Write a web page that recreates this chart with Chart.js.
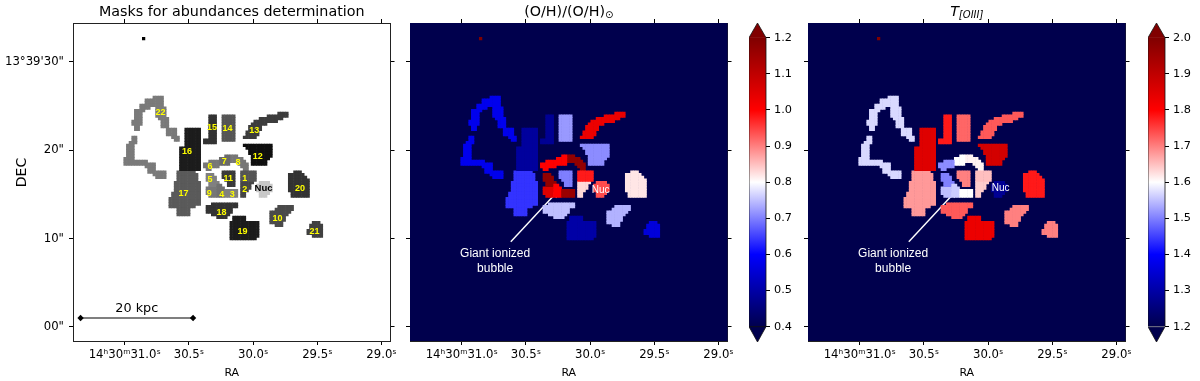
<!DOCTYPE html>
<html>
<head>
<meta charset="utf-8">
<script src="https://cdn.jsdelivr.net/npm/chart.js@4"></script>
<style>
  body { margin: 0; background: #fff; }
  canvas { position: absolute; top: 0; }
</style>
</head>
<body>
<canvas id="maskPanel" width="400" height="381" style="left:0"></canvas>
<canvas id="oxygenPanel" width="400" height="381" style="left:337px"></canvas>
<canvas id="oxygenBar" width="60" height="381" style="left:749px"></canvas>
<canvas id="tempPanel" width="400" height="381" style="left:735px"></canvas>
<canvas id="tempBar" width="52" height="381" style="left:1148px"></canvas>
<script>
// Mask cells: each entry is [row, first column, last column] on the image grid
const region1 = [[34,53,58],[35,53,58],[36,53,58],[37,53,58]];
const region2 = [[38,53,57],[39,53,56],[40,53,56],[41,53,55],[42,53,54],[43,53,54]];
const region3 = [[41,47,51],[42,47,51],[43,47,51]];
const region4 = [[39,44,45],[40,44,46],[41,44,46],[42,44,46],[43,44,46]];
const region5 = [[35,40,42],[36,40,43],[37,40,43],[38,41,44],[39,41,43]];
const region6 = [[30,41,44],[31,39,44],[32,39,44],[33,40,41]];
const region7 = [[28,47,48],[29,45,48],[30,45,48],[31,45,48]];
const region8 = [[28,49,51],[29,49,53],[30,49,54],[31,52,55],[32,53,55],[33,54,55]];
const region9 = [[40,40,43],[41,40,43],[42,40,43],[43,41,43]];
const region10 = [[47,67,72],[48,66,72],[49,64,71],[50,64,70],[51,64,69],[52,64,69],[53,64,68],[54,66,68]];
const region11 = [[34,46,50],[35,46,50],[36,46,50],[37,47,50],[38,48,50],[39,48,50]];
const region12 = [[24,54,64],[25,55,64],[26,56,64],[27,56,64],[28,57,64],[29,57,63],[30,57,62],[31,57,62]];
const region13 = [[12,67,70],[13,63,70],[14,60,68],[15,58,66],[16,57,62],[17,56,60],[18,56,60],[19,55,59],[20,55,59],[21,54,58]];
const region14 = [[13,46,50],[14,46,50],[15,46,50],[16,46,50],[17,46,50],[18,46,50],[19,46,50],[20,46,50],[21,46,50],[22,46,50]];
const region15 = [[13,41,43],[14,41,43],[15,41,43],[16,41,43],[17,41,43],[18,41,43],[19,41,43],[20,41,43],[21,41,43],[22,39,43],[23,39,43]];
const region16 = [[18,32,37],[19,32,37],[20,32,37],[21,32,37],[22,32,37],[23,32,37],[24,32,37],[25,30,37],[26,30,37],[27,30,37],[28,30,37],[29,30,37],[30,30,37],[31,30,37],[32,30,37],[33,30,37]];
const region17 = [[34,29,35],[35,29,36],[36,29,36],[37,29,36],[38,28,37],[39,28,37],[40,28,37],[41,28,37],[42,27,37],[43,27,37],[44,26,37],[45,26,37],[46,26,37],[47,26,35],[48,29,33],[49,29,33],[50,29,33]];
const region18 = [[46,42,51],[47,40,51],[48,40,49],[49,40,49],[50,42,48],[51,44,47]];
const region19 = [[51,50,54],[52,50,54],[53,49,59],[54,49,59],[55,49,59],[56,49,59],[57,49,59],[58,49,59],[59,49,58]];
const region20 = [[34,73,75],[35,71,76],[36,71,77],[37,71,78],[38,71,78],[39,71,78],[40,71,78],[41,71,78],[42,72,78],[43,72,78]];
const region21 = [[53,80,82],[54,79,83],[55,79,83],[56,78,83],[57,78,83],[58,80,83]];
const region22 = [[6,20,23],[7,17,23],[8,17,23],[9,15,23],[10,15,18],[10,21,24],[11,13,16],[11,21,24],[12,13,15],[12,21,24],[13,13,15],[13,21,24],[14,13,15],[14,22,25],[15,12,15],[15,23,25],[16,12,15],[16,23,25],[17,13,14],[17,23,25],[18,13,14],[18,25,28],[19,25,28],[20,25,28],[21,12,13],[21,27,29],[22,12,13],[22,28,29],[23,11,13],[24,10,12],[25,10,12],[26,10,12],[27,10,12],[28,10,12],[29,9,12],[30,9,17],[31,9,20],[32,17,20],[33,18,20],[34,18,24],[35,20,24],[36,21,24]];
const regionNuc = [[38,60,63],[39,59,64],[40,59,64],[41,59,64],[42,60,63],[43,60,62]];
const regionDot = [[-16,16,16]];

const regionSpans = [region1, region2, region3, region4, region5, region6, region7, region8, region9, region10, region11,
  region12, region13, region14, region15, region16, region17, region18, region19, region20, region21, region22, regionNuc, regionDot];

// Per-region values, same order as regionSpans
const maskGray = [85, 70, 128, 112, 128, 119, 106, 119, 119, 74, 58, 15, 60, 85, 51, 28, 90, 51, 28, 51, 64, 122, 200, 0];
const oxygenValues = [0.98, 0.83, 1.16, 1.0, 1.17, 1.0, 1.0, 1.17, 1.05, 0.74, 0.70, 0.71, 1.03, 0.72, 0.48, 0.49, 0.64, 0.75, 0.5, 0.82, 0.56, 0.58, 0.94, 1.25];
const tempValues = [1.65, 1.64, 1.6, 1.56, 1.5, 1.51, 1.6, 1.61, 1.55, 1.7, 1.7, 1.87, 1.73, 1.72, 1.78, 1.85, 1.68, 1.73, 1.83, 1.78, 1.7, 1.57, 1.28, 2.1];

// Region labels of the mask panel, in grid units
const labelTexts = ["22", "15", "14", "13", "16", "12", "7", "8", "6", "5", "11", "1", "2", "9", "4", "3", "20", "17", "18", "10", "19", "21"];
const labelCols = [22.9, 42.3, 48.1, 58.2, 32.8, 59.5, 46.9, 52.1, 41.5, 41.5, 48.4, 54.6, 54.6, 41.2, 45.9, 49.9, 75.4, 31.5, 45.8, 66.9, 53.8, 80.9];
const labelRows = [12.25, 17.75, 18.1, 19.1, 26.75, 28.5, 30.6, 31.1, 32.5, 37.4, 37, 37, 41.1, 42.4, 42.75, 42.75, 40.6, 42.5, 49.6, 51.9, 56.75, 56.9];

// Axis ticks
const raTicks = [31.0, 30.5, 30.0, 29.5, 29.0];
const raTickLabels = ["14ʰ30ᵐ31.0ˢ", "30.5ˢ", "30.0ˢ", "29.5ˢ", "29.0ˢ"];
const decTicks = [0, 10, 20, 30];
const decTickLabels = ['00"', '10"', '20"', '13°39\'30"'];
const oxygenTicks = [0.4, 0.5, 0.6, 0.7, 0.8, 0.9, 1.0, 1.1, 1.2];
const tempTicks = [1.2, 1.3, 1.4, 1.5, 1.6, 1.7, 1.8, 1.9, 2.0];

// Annotations in RA (s) / DEC (") offsets
const scaleBarRa = [31.344, 30.468];
const scaleBarDec = [1.02, 1.02];
const arrowRa = [30.618, 30.272];
const arrowDec = [9.65, 15.05];

// Map window and grid
const raRange = [28.93, 31.403];
const decRange = [-1.584, 34.39];
const gridRa0 = 31.194, gridRaStep = 0.02067;
const gridDec0 = 27.94, gridDecStep = 0.3017;

const FONT = '"DejaVu Sans"';
const ARIAL = '"Liberation Sans"';

// Same stops as matplotlib's seismic map
const seismicStops = [[0, [0, 0, 77]], [0.25, [0, 0, 255]], [0.5, [255, 255, 255]], [0.75, [255, 0, 0]], [1, [128, 0, 0]]];

function seismicColor(t) {
  t = Math.min(1, Math.max(0, t));
  for (let i = 1; i < seismicStops.length; i++) {
    const [t1, c1] = seismicStops[i];
    if (t <= t1) {
      const [t0, c0] = seismicStops[i - 1];
      const f = (t - t0) / (t1 - t0);
      return `rgb(${c0.map((c, k) => Math.round(c + (c1[k] - c) * f)).join(",")})`;
    }
  }
  return "rgb(128,0,0)";
}

const colToRa = col => gridRa0 - col * gridRaStep;
const rowToDec = row => gridDec0 - row * gridDecStep;

// Turn the span lists into scatter points
function spansToPoints(spans) {
  const points = [];
  spans.forEach(([row, first, last]) => {
    for (let col = first; col <= last; col++) {
      points.push({ x: colToRa(col + 0.5), y: rowToDec(row + 0.5) });
    }
  });
  return points;
}

function fixedTicks(values) {
  return scale => { scale.ticks = values.map(value => ({ value })); };
}

function mapAxis(position, range, values, labels, size) {
  const horizontal = position === "bottom" || position === "top";
  return {
    type: "linear",
    position,
    reverse: horizontal,
    min: range[0],
    max: range[1],
    afterBuildTicks: fixedTicks(values),
    afterFit: scale => {
      if (horizontal) scale.height = size; else scale.width = size;
    },
    grid: { drawOnChartArea: false, tickLength: 4, tickColor: "#000", tickWidth: 1 },
    border: { display: true, color: "#222", width: 1 },
    ticks: {
      display: !!labels,
      autoSkip: false,
      maxRotation: 0,
      padding: horizontal ? 3 : 5,
      color: "#000",
      font: { family: FONT, size: 11.7 },
      callback: value => {
        const i = values.indexOf(value);
        return labels && i >= 0 ? labels[i] : "";
      }
    }
  };
}

// Title, background and text annotations for one map panel
function panelPlugin(panel) {
  return {
    id: "panelDecor",
    beforeDatasetsDraw(chart) {
      const { ctx, chartArea: a } = chart;
      if (panel.background) {
        ctx.fillStyle = panel.background;
        ctx.fillRect(a.left, a.top, a.width, a.height);
      }
    },
    afterDatasetsDraw(chart) {
      const { ctx, chartArea: a, scales } = chart;
      ctx.save();
      ctx.textBaseline = "alphabetic";
      ctx.textAlign = "left";
      ctx.fillStyle = "#000";
      const runs = panel.titleRuns;
      const width = runs.reduce((sum, r) => {
        ctx.font = r.font;
        return sum + ctx.measureText(r.text).width;
      }, 0);
      let x = (a.left + a.right) / 2 - width / 2;
      runs.forEach(r => {
        ctx.font = r.font;
        ctx.fillText(r.text, x, 16 + (r.dy || 0));
        x += ctx.measureText(r.text).width;
      });
      ctx.textAlign = "center";
      ctx.textBaseline = "middle";
      if (panel.decTitle) {
        // matplotlib centred this on the whole figure, not on the axis
        ctx.save();
        ctx.translate(22.5, 172.5);
        ctx.rotate(-Math.PI / 2);
        ctx.font = `14px ${FONT}`;
        ctx.fillText("DEC", 0, 0);
        ctx.restore();
      }
      panel.texts.forEach(t => {
        ctx.font = t.font;
        ctx.fillStyle = t.color;
        ctx.fillText(t.text, scales.x.getPixelForValue(t.ra), scales.y.getPixelForValue(t.dec));
      });
      ctx.restore();
    }
  };
}

function buildMapPanel(canvasId, panel) {
  const datasets = regionSpans.map((spans, i) => ({
    label: "region " + i,
    data: spansToPoints(spans),
    backgroundColor: panel.colors[i],
    borderWidth: 0,
    pointStyle: "rect",
    pointRadius: 2.3,
    pointHoverRadius: 2.3
  }));
  (panel.lines || []).forEach(line => datasets.push(line));

  const xAxis = mapAxis("bottom", raRange, raTicks, raTickLabels, 40);
  xAxis.title = { display: true, text: "RA", color: "#000", font: { family: FONT, size: 11 }, padding: { top: 0, bottom: 1 } };

  return new Chart(document.getElementById(canvasId), {
    type: "scatter",
    data: { datasets },
    options: {
      responsive: false,
      animation: false,
      layout: { padding: 0 },
      plugins: { legend: { display: false }, tooltip: { enabled: false } },
      scales: {
        x: xAxis,
        y: mapAxis("left", decRange, decTicks, panel.decLabels, 73),
        x2: mapAxis("top", raRange, raTicks, null, 23),
        y2: mapAxis("right", decRange, decTicks, null, 8)
      }
    },
    plugins: [panelPlugin(panel)]
  });
}

function arrowDataset() {
  return {
    showLine: true,
    data: arrowRa.map((ra, i) => ({ x: ra, y: arrowDec[i] })),
    borderColor: "#fff",
    borderWidth: 1.4,
    backgroundColor: "#fff",
    pointStyle: "triangle",
    pointRadius: [0, 4.5],
    pointRotation: 42,
    pointBorderWidth: 0
  };
}

// Vertical colour bar: one floating bar with the map as gradient, plus extend caps
function buildColorBar(canvasId, range, ticks, baseColor, capRange) {
  const capPlugin = {
    id: "colorCaps",
    afterDatasetsDraw(chart) {
      const { ctx, chartArea: a, scales } = chart;
      const yLow = scales.y.getPixelForValue(range[0]);
      const yHigh = scales.y.getPixelForValue(range[1]);
      const mid = (a.left + a.right) / 2;
      ctx.save();
      ctx.fillStyle = "rgb(128,0,0)";
      ctx.beginPath();
      ctx.moveTo(a.left, yHigh); ctx.lineTo(mid, a.top); ctx.lineTo(a.right, yHigh);
      ctx.closePath(); ctx.fill();
      ctx.fillStyle = "rgb(0,0,77)";
      ctx.beginPath();
      ctx.moveTo(a.left, yLow); ctx.lineTo(mid, a.bottom); ctx.lineTo(a.right, yLow);
      ctx.closePath(); ctx.fill();
      ctx.strokeStyle = "#111";
      ctx.lineWidth = 0.8;
      ctx.beginPath();
      ctx.moveTo(a.left, yHigh); ctx.lineTo(mid, a.top); ctx.lineTo(a.right, yHigh);
      ctx.lineTo(a.right, yLow); ctx.lineTo(mid, a.bottom); ctx.lineTo(a.left, yLow);
      ctx.closePath(); ctx.stroke();
      ctx.strokeStyle = baseColor;
      ctx.beginPath();
      ctx.moveTo(a.left, yLow); ctx.lineTo(a.right, yLow);
      ctx.stroke();
      ctx.restore();
    }
  };

  const chart = new Chart(document.getElementById(canvasId), {
    type: "bar",
    data: {
      labels: ["map"],
      datasets: [{
        data: [range],
        borderWidth: 0,
        barPercentage: 1,
        categoryPercentage: 1,
        backgroundColor: context => {
          const { ctx, scales } = context.chart;
          const y0 = scales.y ? scales.y.getPixelForValue(range[0]) : NaN;
          const y1 = scales.y ? scales.y.getPixelForValue(range[1]) : NaN;
          if (!Number.isFinite(y0) || !Number.isFinite(y1)) return "#fff";
          const grad = ctx.createLinearGradient(0, y0, 0, y1);
          seismicStops.forEach(([t, c]) => grad.addColorStop(t, `rgb(${c.join(",")})`));
          return grad;
        }
      }]
    },
    options: {
      responsive: false,
      animation: false,
      layout: { padding: { top: 23, bottom: 39 } },
      plugins: { legend: { display: false }, tooltip: { enabled: false } },
      scales: {
        x: { display: false },
        y: {
          position: "right",
          min: capRange[0],
          max: capRange[1],
          afterBuildTicks: fixedTicks(ticks),
          afterFit: scale => { scale.width = document.getElementById(canvasId).width - 17; },
          grid: { drawOnChartArea: false, tickLength: 4, tickColor: "#000", tickWidth: 1 },
          border: { display: false },
          ticks: {
            autoSkip: false,
            padding: 4,
            color: "#000",
            font: { family: FONT, size: 11.3 },
            callback: value => value.toFixed(1)
          }
        }
      }
    },
    plugins: [capPlugin]
  });
  chart.update();
  return chart;
}

Chart.defaults.font.family = FONT;

const titleFont = `14.3px ${FONT}`;
const maskTexts = labelTexts.map((text, i) => ({
  text,
  ra: colToRa(labelCols[i]),
  dec: rowToDec(labelRows[i]),
  font: `bold 9px ${ARIAL}`,
  color: "#ffff00"
}));
maskTexts.push({ text: "Nuc", ra: colToRa(61.7), dec: rowToDec(40.6), font: `bold 9.5px ${ARIAL}`, color: "#000" });
maskTexts.push({ text: "20 kpc", ra: 30.906, dec: 2.05, font: `12.8px ${FONT}`, color: "#000" });

function bubbleTexts(nucCol, nucRow) {
  return [
    { text: "Giant ionized", ra: 30.74, dec: 8.3, font: `12px ${ARIAL}`, color: "#fff" },
    { text: "bubble", ra: 30.74, dec: 6.6, font: `12px ${ARIAL}`, color: "#fff" },
    { text: "Nuc", ra: colToRa(nucCol), dec: rowToDec(nucRow), font: `10px ${ARIAL}`, color: "#fff" }
  ];
}

buildMapPanel("maskPanel", {
  colors: maskGray.map(g => `rgb(${g},${g},${g})`),
  decLabels: decTickLabels,
  decTitle: true,
  titleRuns: [{ text: "Masks for abundances determination", font: titleFont }],
  texts: maskTexts,
  lines: [{
    showLine: true,
    data: scaleBarRa.map((ra, i) => ({ x: ra, y: scaleBarDec[i] })),
    borderColor: "#000",
    borderWidth: 1.2,
    backgroundColor: "#000",
    pointStyle: "rectRot",
    pointRadius: 3.2,
    pointBorderWidth: 0
  }]
});

buildMapPanel("oxygenPanel", {
  colors: oxygenValues.map(v => seismicColor((v - 0.4) / 0.8)),
  background: seismicColor(0),
  titleRuns: [
    { text: "(O/H)/(O/H)", font: titleFont },
    { text: "⊙", font: `10px ${FONT}`, dy: 2 }
  ],
  texts: bubbleTexts(61.7, 41.5),
  lines: [arrowDataset()]
});
buildColorBar("oxygenBar", [0.4, 1.2], oxygenTicks, "#111", [0.3576, 1.2407]);

buildMapPanel("tempPanel", {
  colors: tempValues.map(v => seismicColor((v - 1.2) / 0.8)),
  background: seismicColor(0),
  titleRuns: [
    { text: "T", font: `italic ${titleFont}` },
    { text: "[OIII]", font: `italic 10px ${FONT}`, dy: 2 }
  ],
  texts: bubbleTexts(62.5, 40.7),
  lines: [arrowDataset()]
});
buildColorBar("tempBar", [1.2, 2.0], tempTicks, "#999", [1.1576, 2.0407]);
</script>
</body>
</html>
